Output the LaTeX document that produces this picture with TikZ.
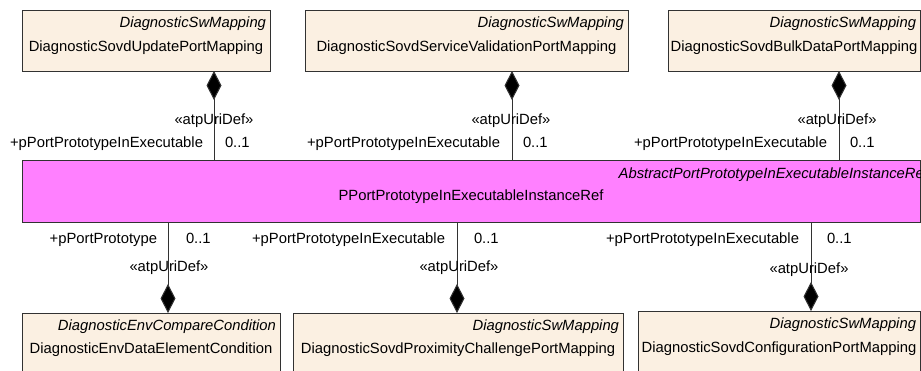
\documentclass[tikz,border=0pt]{standalone}
\usepackage{fontspec}
\setmainfont{Liberation Sans}
\usetikzlibrary{arrows.meta,calc}
\definecolor{clsfill}{RGB}{251,240,226}
\definecolor{pinkfill}{RGB}{255,128,255}
\definecolor{linecol}{RGB}{50,50,50}
\tikzset{
 cls/.style={draw=linecol, line width=1pt, fill=clsfill, anchor=north west, inner sep=0pt, outer sep=0pt},
 refcls/.style={cls, fill=pinkfill},
 txt/.style={inner sep=0pt, outer sep=0pt, font=\fontsize{14.8}{17}\selectfont, text=black},
 ster/.style={txt, font=\fontsize{14.8}{17}\selectfont\itshape, anchor=base east},
 cname/.style={txt, anchor=base},
 rolel/.style={txt, anchor=base east},
 multl/.style={txt, anchor=base west},
 stereo/.style={txt, anchor=base},
 comp/.style={draw=linecol, line width=1pt, {Diamond[length=29pt,width=15pt,fill=black]}-},
}
\begin{document}
\begin{tikzpicture}[x=1pt,y=-1pt]
\useasboundingbox (0,0) rectangle (921,370);
\clip (0,0) rectangle (921,370);
% classes
\node[cls, minimum width=248pt, minimum height=61pt] (top1) at (22,10) {};
\node[cls, minimum width=323pt, minimum height=61pt] (top2) at (305,10) {};
\node[cls, minimum width=252pt, minimum height=61pt] (top3) at (668,10) {};
\node[refcls, minimum width=898pt, minimum height=62pt] (pink) at (22,160) {};
\node[cls, minimum width=258pt, minimum height=70pt] (b1) at (22,313) {};
\node[cls, minimum width=330pt, minimum height=70pt] (b2) at (293,313) {};
\node[cls, minimum width=282pt, minimum height=72pt] (b3) at (638,311) {};
% class texts
\node[ster] (top1s) at ($(top1.north east)+(-4,17)$) {DiagnosticSwMapping};
\node[cname] (top1n) at ($(top1.north)+(0,41)$) {DiagnosticSovdUpdatePortMapping};
\node[ster] (top2s) at ($(top2.north east)+(-4,17)$) {DiagnosticSwMapping};
\node[cname] (top2n) at ($(top2.north)+(0,41)$) {DiagnosticSovdServiceValidationPortMapping};
\node[ster] (top3s) at ($(top3.north east)+(-4,17)$) {DiagnosticSwMapping};
\node[cname] (top3n) at ($(top3.north)+(0,41)$) {DiagnosticSovdBulkDataPortMapping};
\node[ster] (pinks) at ($(pink.north east)+(8,18)$) {AbstractPortPrototypeInExecutableInstanceRef};
\node[cname] (pinkn) at ($(pink.north)+(0,40)$) {PPortPrototypeInExecutableInstanceRef};
\node[ster] (b1s) at ($(b1.north east)+(-4,17)$) {DiagnosticEnvCompareCondition};
\node[cname] (b1n) at ($(b1.north)+(0,40)$) {DiagnosticEnvDataElementCondition};
\node[ster] (b2s) at ($(b2.north east)+(-4,17)$) {DiagnosticSwMapping};
\node[cname] (b2n) at ($(b2.north)+(0,40)$) {DiagnosticSovdProximityChallengePortMapping};
\node[ster] (b3s) at ($(b3.north east)+(-4,17)$) {DiagnosticSwMapping};
\node[cname] (b3n) at ($(b3.north)+(0,41)$) {DiagnosticSovdConfigurationPortMapping};
% connector x positions
\coordinate (c1) at (214,0);
\coordinate (c2) at (512,0);
\coordinate (c3) at (839,0);
\coordinate (d1) at (168,0);
\coordinate (d2) at (457,0);
\coordinate (d3) at (811,0);
% connectors
\draw[comp] (top1.south -| c1) -- (pink.north -| c1);
\draw[comp] (top2.south -| c2) -- (pink.north -| c2);
\draw[comp] (top3.south -| c3) -- (pink.north -| c3);
\draw[comp] (b1.north -| d1) -- (pink.south -| d1);
\draw[comp] (b2.north -| d2) -- (pink.south -| d2);
\draw[comp] (b3.north -| d3) -- (pink.south -| d3);
% connector labels
\node[rolel] (r1) at (203,147) {+pPortPrototypeInExecutable};
\node[multl] (m1) at (225,147) {0..1};
\node[stereo] (s1) at (214,124) {«atpUriDef»};
\node[rolel] (r2) at (500,147) {+pPortPrototypeInExecutable};
\node[multl] (m2) at (523,147) {0..1};
\node[stereo] (s2) at (511,124) {«atpUriDef»};
\node[rolel] (r3) at (827,147) {+pPortPrototypeInExecutable};
\node[multl] (m3) at (850,147) {0..1};
\node[stereo] (s3) at (837,124) {«atpUriDef»};
\node[rolel] (r4) at (157,243) {+pPortPrototype};
\node[multl] (m4) at (186,243) {0..1};
\node[stereo] (s4) at (169,271) {«atpUriDef»};
\node[rolel] (r5) at (445,243) {+pPortPrototypeInExecutable};
\node[multl] (m5) at (474,243) {0..1};
\node[stereo] (s5) at (459,271) {«atpUriDef»};
\node[rolel] (r6) at (799,243) {+pPortPrototypeInExecutable};
\node[multl] (m6) at (827,243) {0..1};
\node[stereo] (s6) at (809,273) {«atpUriDef»};
\end{tikzpicture}
\end{document}
